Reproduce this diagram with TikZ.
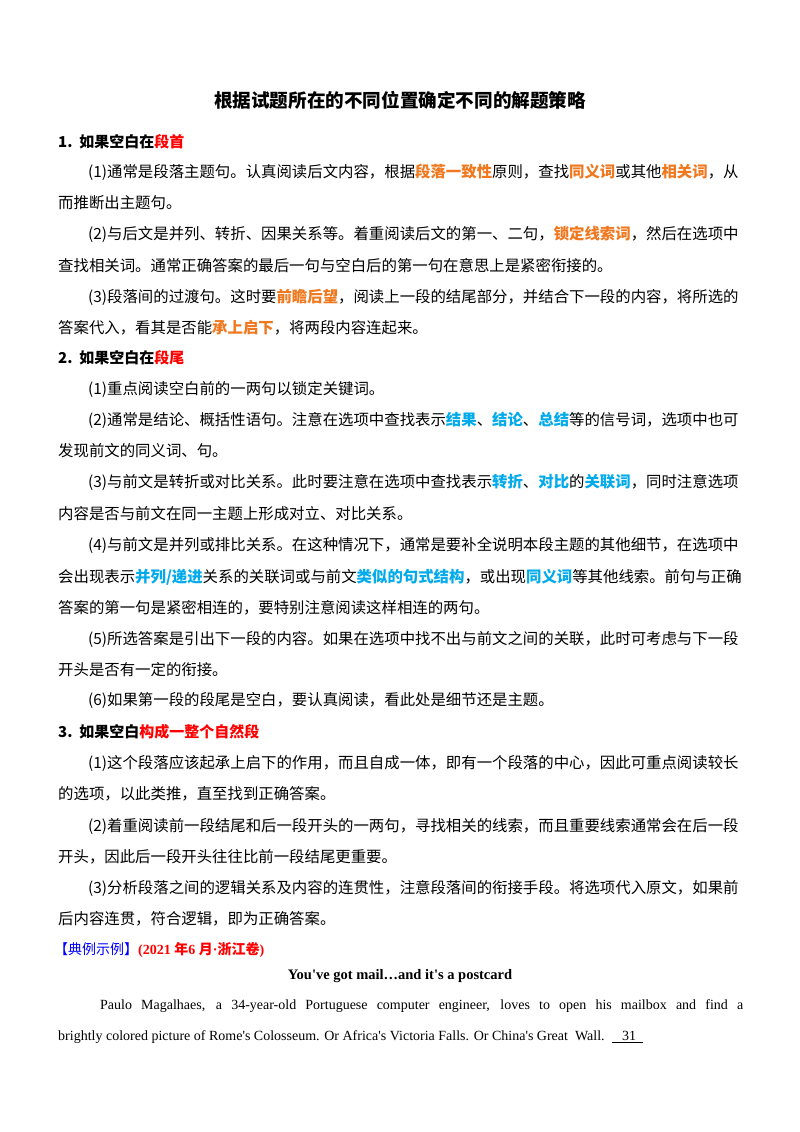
\documentclass[tikz,border=0pt]{standalone}
\usepackage{fontspec}
\setmainfont{Liberation Serif}
\newfontfamily\cjk{Noto Sans CJK SC}
\definecolor{org}{RGB}{240,120,30}
\definecolor{cy}{RGB}{0,170,235}
\definecolor{rd}{RGB}{255,0,0}
\definecolor{bl}{RGB}{0,0,255}
\newcommand{\oo}[1]{{\color{org}\bfseries #1}}
\newcommand{\cc}[1]{{\color{cy}\bfseries #1}}
\newcommand{\q}{\textquotesingle}
\begin{document}
\begin{tikzpicture}[x=1pt,y=1pt,
  ln/.style={anchor=west,inner sep=0pt,font=\cjk\fontsize{15.4}{17}\selectfont},
  hd/.style={anchor=west,inner sep=0pt,font=\cjk\bfseries\fontsize{15}{17}\selectfont}]
\useasboundingbox[fill=white] (0,0) rectangle (800,1132);
\node[font=\cjk\bfseries\fontsize{18.6}{20}\selectfont] (t) at (400,1032) {根据试题所在的不同位置确定不同的解题策略};
\node[hd] (h1) at (58,990) {1.\ \ 如果空白在{\color{rd}段首}};
\node[ln] (a1) at (88,960) {(1)通常是段落主题句。认真阅读后文内容，根据\oo{段落一致性}原则，查找\oo{同义词}或其他\oo{相关词}，从};
\node[ln] (a2) at (58,929) {而推断出主题句。};
\node[ln] (a3) at (88,898) {(2)与后文是并列、转折、因果关系等。着重阅读后文的第一、二句，\oo{锁定线索词}，然后在选项中};
\node[ln] (a4) at (58,866) {查找相关词。通常正确答案的最后一句与空白后的第一句在意思上是紧密衔接的。};
\node[ln] (a5) at (88,835) {(3)段落间的过渡句。这时要\oo{前瞻后望}，阅读上一段的结尾部分，并结合下一段的内容，将所选的};
\node[ln] (a6) at (58,804) {答案代入，看其是否能\oo{承上启下}，将两段内容连起来。};
\node[hd] (h2) at (58,774) {2.\ \ 如果空白在{\color{rd}段尾}};
\node[ln] (b1) at (88,743) {(1)重点阅读空白前的一两句以锁定关键词。};
\node[ln] (b2) at (88,712) {(2)通常是结论、概括性语句。注意在选项中查找表示\cc{结果}、\cc{结论}、\cc{总结}等的信号词，选项中也可};
\node[ln] (b3) at (58,681) {发现前文的同义词、句。};
\node[ln] (b4) at (88,650) {(3)与前文是转折或对比关系。此时要注意在选项中查找表示\cc{转折}、\cc{对比}的\cc{关联词}，同时注意选项};
\node[ln] (b5) at (58,618) {内容是否与前文在同一主题上形成对立、对比关系。};
\node[ln] (b6) at (88,587) {(4)与前文是并列或排比关系。在这种情况下，通常是要补全说明本段主题的其他细节，在选项中};
\node[ln] (b7) at (58,555) {会出现表示\cc{并列/递进}关系的关联词或与前文\cc{类似的句式结构}，或出现\cc{同义词}等其他线索。前句与正确};
\node[ln] (b8) at (58,524) {答案的第一句是紧密相连的，要特别注意阅读这样相连的两句。};
\node[ln] (b9) at (88,493) {(5)所选答案是引出下一段的内容。如果在选项中找不出与前文之间的关联，此时可考虑与下一段};
\node[ln] (b10) at (58,462) {开头是否有一定的衔接。};
\node[ln] (b11) at (88,431) {(6)如果第一段的段尾是空白，要认真阅读，看此处是细节还是主题。};
\node[hd] (h3) at (58,400) {3.\ \ 如果空白{\color{rd}构成一整个自然段}};
\node[ln] (c1) at (88,369) {(1)这个段落应该起承上启下的作用，而且自成一体，即有一个段落的中心，因此可重点阅读较长};
\node[ln] (c2) at (58,338) {的选项，以此类推，直至找到正确答案。};
\node[ln] (c3) at (88,306) {(2)着重阅读前一段结尾和后一段开头的一两句，寻找相关的线索，而且重要线索通常会在后一段};
\node[ln] (c4) at (58,275) {开头，因此后一段开头往往比前一段结尾更重要。};
\node[ln] (c5) at (88,244) {(3)分析段落之间的逻辑关系及内容的连贯性，注意段落间的衔接手段。将选项代入原文，如果前};
\node[ln] (c6) at (58,213) {后内容连贯，符合逻辑，即为正确答案。};
\node[anchor=west,inner sep=0pt,font=\fontsize{14}{16}\selectfont] (ex) at (54,182) {{\cjk\color{bl}【典例示例】}{\color{rd}\bfseries (2021 {\cjk 年}6 {\cjk 月}·{\cjk 浙江卷})}};
\node[font=\bfseries\fontsize{14.5}{16}\selectfont] (et) at (400,156) {You\q ve got mail\ldots and it\q s a postcard};
\node[anchor=west,inner sep=0pt,font=\fontsize{14}{16}\selectfont] (e1) at (100,126) {\makebox[643pt][s]{Paulo Magalhaes, a 34-year-old Portuguese computer engineer, loves to open his mailbox and find a}};
\node[anchor=west,inner sep=0pt,font=\fontsize{14}{16}\selectfont] (e2) at (58,95) {brightly colored picture of Rome\q s Colosseum. Or Africa\q s Victoria Falls. Or China\q s Great\ \ Wall.\ \ \underline{\ \ \ 31\ \ }};
\end{tikzpicture}
\end{document}
